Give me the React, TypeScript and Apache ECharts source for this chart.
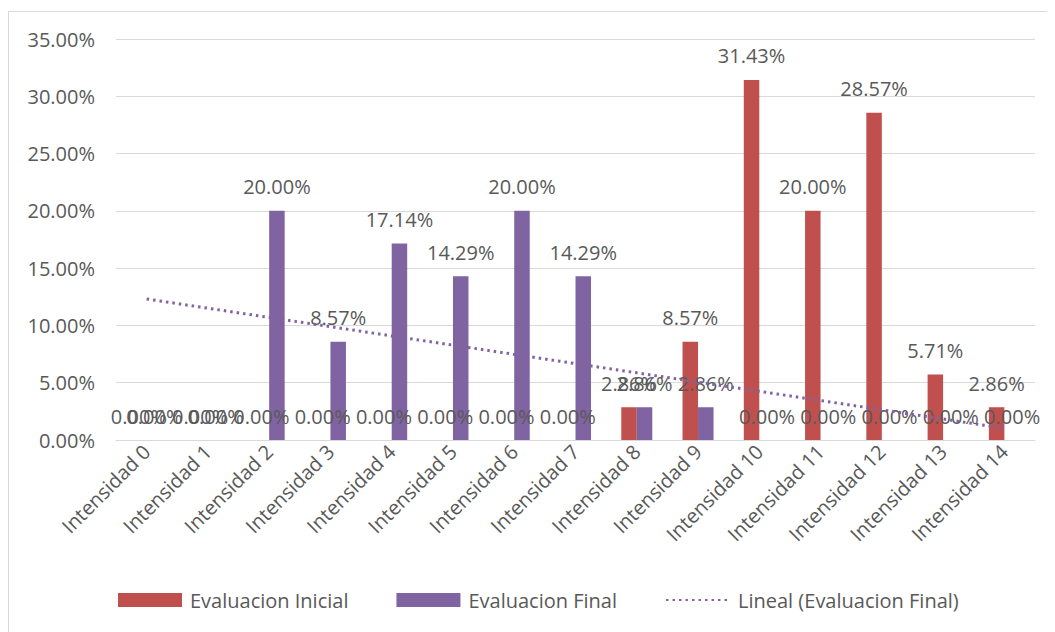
import React, { useEffect, useRef } from "react";
import * as echarts from "echarts";

const categories = [
  "Intensidad 0", "Intensidad 1", "Intensidad 2", "Intensidad 3", "Intensidad 4",
  "Intensidad 5", "Intensidad 6", "Intensidad 7", "Intensidad 8", "Intensidad 9",
  "Intensidad 10", "Intensidad 11", "Intensidad 12", "Intensidad 13", "Intensidad 14",
];
const evaluacionInicial = [0, 0, 0, 0, 0, 0, 0, 0, 2.86, 8.57, 31.43, 20.0, 28.57, 5.71, 2.86];
const evaluacionFinal = [0, 0, 20.0, 8.57, 17.14, 14.29, 20.0, 14.29, 2.86, 2.86, 0, 0, 0, 0, 0];
const yTicks = { min: 0, max: 35, interval: 5 };

// Excel-style linear trendline (least squares over x = 1..n)
function linearTrend(values: number[]): number[] {
  const n = values.length;
  const xs = values.map((_, i) => i + 1);
  const mx = xs.reduce((a, b) => a + b, 0) / n;
  const my = values.reduce((a, b) => a + b, 0) / n;
  let sxy = 0;
  let sxx = 0;
  xs.forEach((x, i) => {
    sxy += (x - mx) * (values[i] - my);
    sxx += (x - mx) * (x - mx);
  });
  const slope = sxy / sxx;
  const intercept = my - slope * mx;
  return xs.map((x) => intercept + slope * x);
}

const RED = "#C0504D";
const PURPLE = "#8064A2";
const TEXT = "#595959";
const FONT = "'Open Sans', sans-serif";

export default function App() {
  const ref = useRef<HTMLDivElement>(null);
  useEffect(() => {
    if (!ref.current) return;
    const chart = echarts.init(ref.current, null, { renderer: "svg" });
    const fmt = (v: number) => `${v.toFixed(2)}%`;
    const labelCfg = {
      show: true,
      position: "top" as const,
      distance: 14,
      color: TEXT,
      fontFamily: FONT,
      fontSize: 20,
      formatter: (p: any) => fmt(p.value),
    };
    chart.setOption({
      animation: false,
      textStyle: { fontFamily: FONT, color: TEXT },
      grid: { left: 107, top: 27, width: 919, height: 401, containLabel: false },
      legend: {
        left: 109,
        top: 578,
        padding: 0,
        itemWidth: 64,
        itemHeight: 14,
        itemGap: 48,
        textStyle: { color: TEXT, fontFamily: FONT, fontSize: 20, padding: [0, 0, 0, 3] },
        data: [
          { name: "Evaluacion Inicial", icon: "rect" },
          { name: "Evaluacion Final", icon: "rect" },
          { name: "Lineal (Evaluacion Final)", itemStyle: { opacity: 0 } },
        ],
      },
      xAxis: {
        type: "category",
        data: categories,
        axisLine: { show: true, lineStyle: { color: "#D9D9D9", width: 1 } },
        axisTick: { show: false },
        axisLabel: {
          interval: 0,
          rotate: 45,
          margin: 8,
          color: TEXT,
          fontFamily: FONT,
          fontSize: 20,
        },
      },
      yAxis: {
        type: "value",
        min: yTicks.min,
        max: yTicks.max,
        interval: yTicks.interval,
        axisLine: { show: false },
        axisTick: { show: false },
        splitLine: { lineStyle: { color: "#D9D9D9", width: 1 } },
        axisLabel: {
          color: TEXT,
          fontFamily: FONT,
          fontSize: 20,
          margin: 21,
          formatter: (v: number) => fmt(v),
        },
      },
      series: [
        {
          name: "Evaluacion Inicial",
          type: "bar",
          data: evaluacionInicial,
          barWidth: 15.5,
          barGap: "0%",
          itemStyle: { color: RED },
          label: labelCfg,
        },
        {
          name: "Evaluacion Final",
          type: "bar",
          data: evaluacionFinal,
          barWidth: 15.5,
          barGap: "0%",
          itemStyle: { color: PURPLE },
          label: labelCfg,
        },
        {
          name: "Lineal (Evaluacion Final)",
          type: "line",
          data: linearTrend(evaluacionFinal),
          symbol: "none",
          showSymbol: false,
          z: 5,
          itemStyle: { color: PURPLE },
          lineStyle: { color: PURPLE, width: 3, type: [2.5, 4] },
          label: { show: false },
        },
      ],
    });
    return () => chart.dispose();
  }, []);

  return (
    <div
      style={{
        marginTop: 3,
        width: 1040,
        height: 640,
        border: "1px solid #D9D9D9",
        boxSizing: "border-box",
        background: "#fff",
      }}
    >
      <div ref={ref} style={{ width: 1038, height: 638 }} />
    </div>
  );
}
